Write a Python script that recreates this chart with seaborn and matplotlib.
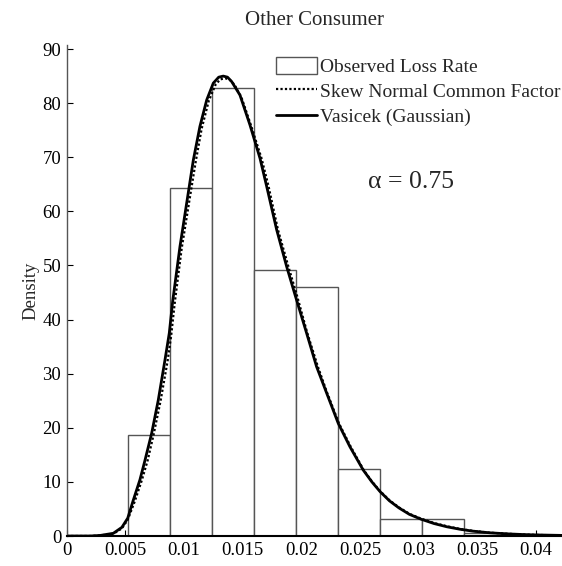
# -*- coding: utf-8 -*-
# histogram of observed loss rate with the two fitted densities
import numpy as np
import pandas as pd
import matplotlib
matplotlib.use("Agg")
import matplotlib.pyplot as plt
import seaborn as sns

# histogram bins (loss rate) and densities
bin_edges = [0.0052, 0.00877, 0.01237, 0.01595, 0.01953, 0.02311, 0.02669, 0.03029, 0.03387, 0.03745]
bar_heights = [18.6, 64.4, 82.8, 49.2, 46.1, 12.3, 3.1, 3.1, 0.6]

# Vasicek (Gaussian) density curve
vas_x = [0.0, 0.002, 0.00284, 0.00397, 0.0047, 0.0052, 0.00567, 0.00624, 0.00667, 0.00724,
         0.0078, 0.00837, 0.00874, 0.00903, 0.00965, 0.01022, 0.01079, 0.01135, 0.01193,
         0.01249, 0.01295, 0.01334, 0.01370, 0.01405, 0.01476, 0.01561, 0.01647, 0.01704,
         0.01789, 0.01874, 0.01945, 0.02044, 0.02129, 0.02215, 0.02314, 0.02413, 0.02526,
         0.0260, 0.0267, 0.0275, 0.0283, 0.0292, 0.0302, 0.0313, 0.0324, 0.0335, 0.0346,
         0.0360, 0.0375, 0.0390, 0.0400, 0.0422]
vas_y = [0.0, 0.0, 0.1, 0.5, 1.6, 3.3, 6.6, 10.4, 14.0, 19.0,
         25.1, 32.5, 37.5, 43.4, 53.5, 61.5, 69.5, 75.7, 80.6,
         83.7, 84.8, 85.0, 84.8, 84.0, 81.5, 76.0, 69.8, 64.6,
         56.6, 49.8, 44.6, 37.5, 31.3, 26.4, 20.8, 16.5, 12.2,
         10.0, 8.2, 6.5, 5.2, 4.0, 3.1, 2.3, 1.7, 1.25, 0.9,
         0.6, 0.4, 0.26, 0.2, 0.11]

# skew normal common factor density curve
skn_x = [0.0, 0.002, 0.00284, 0.00397, 0.0047, 0.0052, 0.0058, 0.0064, 0.0069, 0.0074,
         0.0080, 0.0086, 0.0089, 0.0092, 0.0098, 0.0104, 0.0110, 0.0115, 0.0121,
         0.0127, 0.0131, 0.0135, 0.0139, 0.0143, 0.0149, 0.0157, 0.0166, 0.0172,
         0.0180, 0.0189, 0.0196, 0.0205, 0.0214, 0.0222, 0.0232, 0.0242, 0.0253,
         0.0260, 0.0267, 0.0275, 0.0283, 0.0292, 0.0302, 0.0313, 0.0324, 0.0335, 0.0346,
         0.0360, 0.0375, 0.0390, 0.0400, 0.0422]
skn_y = [0.0, 0.0, 0.1, 0.4, 1.4, 3.0, 6.4, 10.3, 14.0, 18.7,
         25.0, 32.4, 37.0, 43.0, 53.2, 61.3, 69.3, 75.3, 80.4,
         83.5, 84.4, 84.6, 84.3, 83.4, 81.0, 75.9, 69.8, 64.6,
         56.6, 49.7, 44.6, 37.5, 31.3, 26.4, 20.8, 16.5, 12.2,
         10.1, 8.3, 6.6, 5.3, 4.1, 3.2, 2.4, 1.8, 1.3, 0.95,
         0.62, 0.42, 0.27, 0.2, 0.11]

sns.set_theme(style="white")
plt.rcParams['font.family'] = ['Liberation Serif', 'DejaVu Serif']

fig = plt.figure(figsize=(5.62, 5.66), dpi=100)
ax = fig.add_axes([0.1187, 0.053, 0.8813, 0.868])

centers = [(bin_edges[i] + bin_edges[i + 1]) / 2 for i in range(len(bar_heights))]
df = pd.DataFrame({"rate": centers, "dens": bar_heights})
sns.histplot(data=df, x="rate", weights="dens", bins=bin_edges, stat="count",
             color="white", edgecolor="#555555", linewidth=1.0, alpha=1.0,
             ax=ax, label="Observed Loss Rate")

sns.lineplot(x=skn_x, y=skn_y, sort=False, color="black", linestyle=(0, (1, 1)),
             linewidth=1.6, ax=ax, label="Skew Normal Common Factor")
sns.lineplot(x=vas_x, y=vas_y, sort=False, color="black", linewidth=2.0,
             ax=ax, label="Vasicek (Gaussian)")

ax.set_xlim(0, 0.0422)
ax.set_ylim(0, 90.8)
ax.set_xticks([0, 0.005, 0.01, 0.015, 0.02, 0.025, 0.03, 0.035, 0.04])
ax.set_xticklabels(["0", "0.005", "0.01", "0.015", "0.02", "0.025", "0.03", "0.035", "0.04"])
ax.set_yticks(range(0, 91, 10))
ax.tick_params(direction="in", length=4, width=0.8, labelsize=13.5, pad=4,
               colors="black", bottom=True, left=True)

for side in ["top", "right"]:
    ax.spines[side].set_visible(False)
ax.spines["left"].set_color("#555555")
ax.spines["left"].set_linewidth(1.0)
ax.spines["bottom"].set_color("black")
ax.spines["bottom"].set_linewidth(1.5)

ax.set_xlabel("")
ax.set_ylabel("Density", fontsize=13.5, labelpad=2)
ax.set_title("Other Consumer", fontsize=15, pad=14)

ax.text(0.0293, 65.4, "α = 0.75", fontsize=18.5, ha="center", va="center")

# legend in the order of the reference: bars first
handles, labels = ax.get_legend_handles_labels()
order = [labels.index("Observed Loss Rate"), labels.index("Skew Normal Common Factor"),
         labels.index("Vasicek (Gaussian)")]
ax.legend([handles[i] for i in order], [labels[i] for i in order],
          loc="upper left", bbox_to_anchor=(0.423, 0.976), frameon=False,
          fontsize=14, handlelength=2.1, handleheight=1.0, handletextpad=0.15,
          borderpad=0, borderaxespad=0, labelspacing=0.3)

fig.savefig("out.png", dpi=100)
